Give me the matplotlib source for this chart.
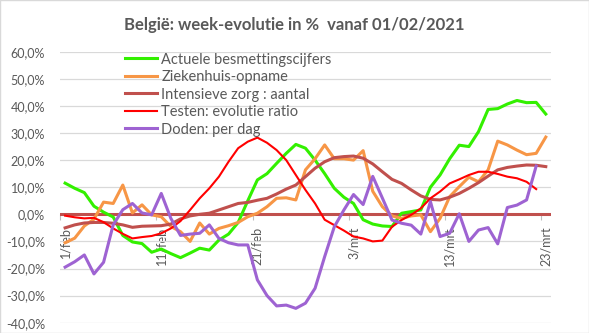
import matplotlib
matplotlib.use('Agg')
import matplotlib.pyplot as plt
import numpy as np
from matplotlib.ticker import FuncFormatter, FixedLocator
from matplotlib.patches import Rectangle

plt.rcParams['font.family'] = ['Lato', 'DejaVu Sans']

# dagelijkse week-evolutie in %, 1/feb t/m 23/mrt
datums = ['1/feb', '11/feb', '21/feb', '3/mrt', '13/mrt', '23/mrt']

besmettingen = [11.5, 9.6, 8.0, 3.0, 0.8, -1.0, -7.8, -10.2, -10.8, -14.0,
                -12.8, -14.5, -16.0, -14.3, -12.5, -13.2, -9.5, -7.3, -3.0, 5.0,
                12.7, 15.0, 18.8, 22.5, 25.8, 24.4, 20.0, 15.0, 9.6, 6.3,
                4.0, -2.0, -3.6, -4.3, -4.5, 0.4, 1.0, 1.6, 10.0, 14.5,
                20.5, 25.5, 25.0, 30.5, 38.7, 39.0, 40.7, 42.0, 41.2, 41.3,
                37.0]

ziekenhuis = [-10.5, -8.8, -4.3, -1.8, 4.5, 4.0, 10.8, 0.5, 3.5, -0.2,
              -0.9, -4.5, -6.4, -10.0, -3.2, -7.3, -5.2, -4.2, -3.0, -0.9,
              0.4, 2.8, 5.9, 6.1, 5.3, 16.4, 20.5, 25.6, 20.5, 20.5,
              20.0, 23.5, 8.5, 2.8, -0.6, -1.5, -0.6, -0.2, -6.4, -1.5,
              6.5, 10.2, 13.7, 12.0, 16.4, 27.0, 25.6, 23.7, 22.0, 22.5,
              28.5]

intensieve_zorg = [-5.0, -3.9, -3.2, -3.0, -3.0, -3.3, -3.9, -4.8, -4.4, -4.3,
                   -4.2, -3.6, -1.7, -0.6, 0.0, 0.4, 1.6, 2.8, 4.0, 4.4,
                   5.2, 5.9, 7.5, 9.3, 10.8, 13.9, 17.0, 19.4, 20.9, 21.3,
                   21.5, 20.7, 18.6, 15.7, 12.9, 11.4, 9.0, 6.8, 5.5, 5.3,
                   6.3, 7.7, 9.6, 11.7, 14.1, 16.4, 17.3, 17.8, 18.2, 18.1,
                   17.6]

testen = [-0.5, -1.1, -1.5, -1.3, -2.9, -5.2, -7.2, -8.9, -8.4, -8.0,
          -7.0, -5.2, -2.5, 1.6, 5.9, 9.6, 13.9, 19.4, 24.4, 26.8,
          28.3, 26.4, 23.7, 20.0, 14.5, 9.0, 4.0, -2.0, -4.0, -6.0,
          -8.2, -8.9, -10.0, -9.7, -4.6, -2.1, -0.2, 2.2, 5.9, 8.4,
          11.4, 12.9, 14.5, 15.7, 15.7, 14.9, 13.9, 13.3, 12.0, 9.3,
          np.nan]

doden = [-19.5, -17.5, -15.0, -22.0, -17.7, -3.9, 1.7, 4.0, 0.5, -0.2,
         7.7, -1.5, -7.8, -7.3, -7.0, -3.9, -8.9, -10.5, -11.3, -11.3,
         -24.2, -30.0, -33.8, -33.5, -34.7, -32.8, -27.3, -15.6, -4.6, 1.6,
         7.3, 3.6, 14.0, 6.0, -2.1, -3.3, -4.0, -7.3, 4.7, -8.2,
         -7.0, 0.2, -10.0, -5.8, -4.9, -10.9, 2.5, 3.4, 5.3, 17.8,
         np.nan]

grijs = '#595959'
dagen = np.arange(len(besmettingen))

fig = plt.figure(figsize=(5.89, 3.33), dpi=100)
ax = fig.add_axes([0.1024, 0.0309, 0.8324, 0.8138])

# nullijn
ax.axhline(0, color='#C0504D', lw=2.2, zorder=2)

ax.plot(dagen, besmettingen, color='#33F000', lw=2.2, label='Actuele besmettingscijfers', zorder=3)
ax.plot(dagen, ziekenhuis, color='#F79646', lw=2.2, label='Ziekenhuis-opname', zorder=3)
ax.plot(dagen, intensieve_zorg, color='#C0504D', lw=2.2, label='Intensieve zorg : aantal', zorder=3)
ax.plot(dagen, testen, color='#FF0000', lw=1.5, label='Testen: evolutie ratio', zorder=3)
ax.plot(dagen, doden, color='#9E63D2', lw=2.2, label='Doden: per dag', zorder=3)

ax.set_xlim(-0.5, len(dagen) - 0.5)
ax.set_ylim(-40, 60)
ax.set_yticks(np.arange(-40, 61, 10))
ax.yaxis.set_major_formatter(FuncFormatter(lambda v, p: ('%.1f%%' % v).replace('.', ',')))
ax.yaxis.grid(True, color='#D9D9D9', lw=0.9, zorder=0)
ax.tick_params(axis='y', length=0, pad=11, labelsize=9, labelcolor=grijs)

# x-as op de nullijn, labels om de 10 dagen
ax.spines['bottom'].set_position(('data', 0))
ax.spines['bottom'].set_visible(False)
for s in ['top', 'right', 'left']:
    ax.spines[s].set_visible(False)
ax.xaxis.set_major_locator(FixedLocator(np.arange(0, len(dagen), 10)))
ax.set_xticklabels(datums, rotation=90, va='top', ha='center')
ax.tick_params(axis='x', which='major', length=0, pad=9, labelsize=9, labelcolor=grijs)
ax.xaxis.set_minor_locator(FixedLocator(np.arange(-0.5, len(dagen), 10)))
ax.tick_params(axis='x', which='minor', length=4, width=0.8, color='#BFBFBF', direction='out')

ax.legend(loc='upper left', bbox_to_anchor=(0.132, 0.997), frameon=False, fontsize=10.5,
          handlelength=2.2, handletextpad=0.3, labelspacing=0.24, borderpad=0,
          borderaxespad=0, labelcolor=grijs)

fig.text(0.5, 0.925, 'België: week-evolutie in %  vanaf 01/02/2021', ha='center', va='center',
         fontsize=12, fontweight='bold', color=grijs)

fig.add_artist(Rectangle((0, 0), 1, 1, transform=fig.transFigure, fill=False,
                         edgecolor='#D9D9D9', lw=1))

fig.savefig('out.png', dpi=100)
